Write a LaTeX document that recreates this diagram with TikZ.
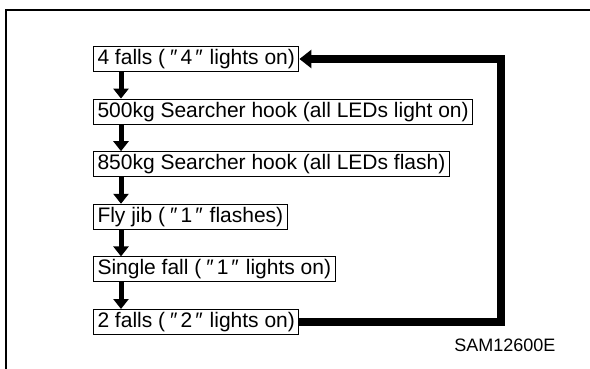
\documentclass[tikz,border=0pt]{standalone}
\usepackage{fontspec}
\setmainfont{Liberation Sans}
\usetikzlibrary{arrows.meta, positioning, calc}
\newcommand\ledmark[1]{\kern5pt″\kern3pt#1\kern3pt″\kern7pt}
\tikzset{
  modebox/.style={rectangle,draw=black,line width=1pt,anchor=north west,inner xsep=4pt,inner ysep=3pt,
    text height=15pt,text depth=4pt,font=\fontsize{21}{25}\selectfont},
  downarr/.style={-{Triangle[width=15pt,length=10pt]},line width=5pt},
  looparr/.style={-{Triangle[width=18pt,length=12pt]},line width=7.5pt,line join=miter},
  framebox/.style={line width=2pt}
}
\begin{document}
\begin{tikzpicture}[x=1pt,y=1pt,node distance=26.6pt]
  \useasboundingbox (0,0) rectangle (590,-369);
  %% Outer frame (only top and left edges visible)
  \draw[framebox] (590,-10) -| (6,-369);

  %% Hook modes, top to bottom
  \node[modebox] (fall4) at (93,-46) {4 falls (\ledmark{4}lights on)};
  \node[modebox,below=of fall4.south west,anchor=north west] (hook500) {500kg Searcher hook (all LEDs light on)};
  \node[modebox,below=of hook500.south west,anchor=north west] (hook850) {850kg Searcher hook (all LEDs flash)};
  \node[modebox,below=of hook850.south west,anchor=north west] (flyjib) {Fly jib (\ledmark{1}flashes)};
  \node[modebox,below=of flyjib.south west,anchor=north west] (fall1) {Single fall (\ledmark{1}lights on)};
  \node[modebox,below=of fall1.south west,anchor=north west] (fall2) {2 falls (\ledmark{2}lights on)};

  %% Step arrows
  \foreach \a/\b in {fall4/hook500,hook500/hook850,hook850/flyjib,flyjib/fall1,fall1/fall2} {
    \draw[downarr] ([xshift=28pt]\a.south west) -- ([xshift=28pt]\b.north west);
  }

  %% Return arrow
  \coordinate (turn) at (501,-188);
  \draw[looparr] (fall2.east) -| (turn) |- (fall4.east);

  \node[font=\fontsize{18}{22}\selectfont,anchor=east] (code) at (559,-345.5) {SAM12600E};
\end{tikzpicture}
\end{document}
